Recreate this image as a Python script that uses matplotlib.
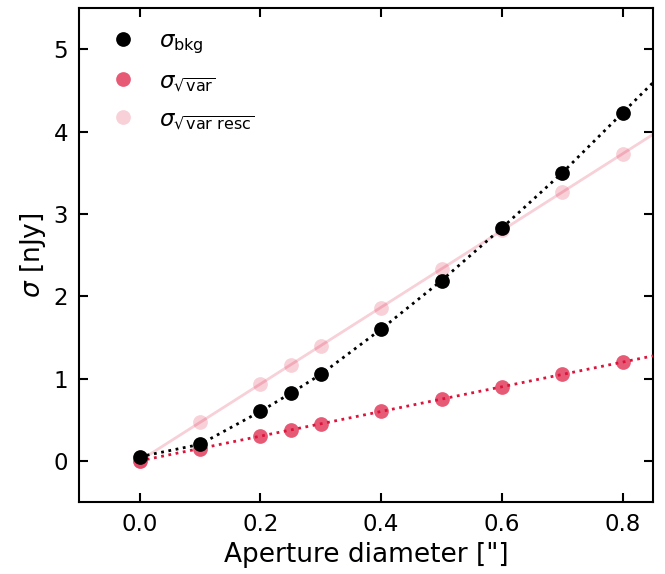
import numpy as np
import matplotlib
matplotlib.use("Agg")
import matplotlib.pyplot as plt

# Aperture diameters (arcsec)
aperture = [0.0, 0.1, 0.2, 0.25, 0.3, 0.4, 0.5, 0.6, 0.7, 0.8]
# Measured noise levels (nJy)
sigma_bkg = [0.05, 0.20, 0.60, 0.82, 1.05, 1.60, 2.19, 2.83, 3.50, 4.23]
sigma_var = [0.00, 0.15, 0.30, 0.375, 0.45, 0.60, 0.75, 0.90, 1.05, 1.20]
sigma_var_resc = [0.00, 0.47, 0.93, 1.17, 1.40, 1.86, 2.33, 2.80, 3.27, 3.73]

x_ticks = [0.0, 0.2, 0.4, 0.6, 0.8]
y_ticks = [0, 1, 2, 3, 4, 5]

crimson = "#dc143c"
x_max = 0.85
ms = 10.6

fig = plt.figure(figsize=(6.65, 5.74), dpi=100)
ax = fig.add_axes([0.119, 0.1254, 0.863, 0.8606])

x = np.array(aperture)
xf = np.linspace(0.0, x_max, 200)

# Linear trends for the variance-based estimates
p_var = np.polyfit(x, sigma_var, 1)
p_resc = np.polyfit(x, sigma_var_resc, 1)

# Background noise: connect the measurements, extend with the last slope
slope_end = np.polyfit(x[-2:], sigma_bkg[-2:], 1)
bkg_x = np.append(x, x_max)
bkg_y = np.append(sigma_bkg, np.polyval(slope_end, x_max))

ax.plot(xf, np.polyval(p_resc, xf), color=crimson, alpha=0.2, lw=2, zorder=1)
ax.plot(x, sigma_var_resc, "o", color=crimson, alpha=0.2, ms=ms, mew=0,
        label=r"$\sigma_{\sqrt{\rm var\ resc}}$", zorder=2)

ax.plot(x, sigma_var, "o", color=crimson, alpha=0.7, ms=ms, mew=0,
        label=r"$\sigma_{\sqrt{\rm var}}$", zorder=3)
ax.plot(xf, np.polyval(p_var, xf), ":", color=crimson, lw=2, zorder=4)

ax.plot(x, sigma_bkg, "o", color="black", ms=ms, mew=0,
        label=r"$\sigma_{\rm bkg}$", zorder=5)
ax.plot(bkg_x, bkg_y, ":", color="black", lw=2, zorder=6)

ax.set_xlim(-0.1, x_max)
ax.set_ylim(-0.5, 5.5)
ax.set_xticks(x_ticks)
ax.set_yticks(y_ticks)
ax.set_xticklabels([f"{v:.1f}" for v in x_ticks])
ax.tick_params(direction="in", top=True, right=True, length=6.5, width=1.5,
               labelsize=16.5, pad=8)
for s in ax.spines.values():
    s.set_linewidth(1.5)

ax.set_xlabel('Aperture diameter ["]', fontsize=19)
ax.set_ylabel(r"$\sigma$ [nJy]", fontsize=19)

handles, labels = ax.get_legend_handles_labels()
order = [2, 1, 0]
ax.legend([handles[i] for i in order], [labels[i] for i in order],
          loc="upper left", frameon=False, fontsize=16.5, handletextpad=0.6,
          labelspacing=0.6)

fig.savefig("out.png", dpi=100)
